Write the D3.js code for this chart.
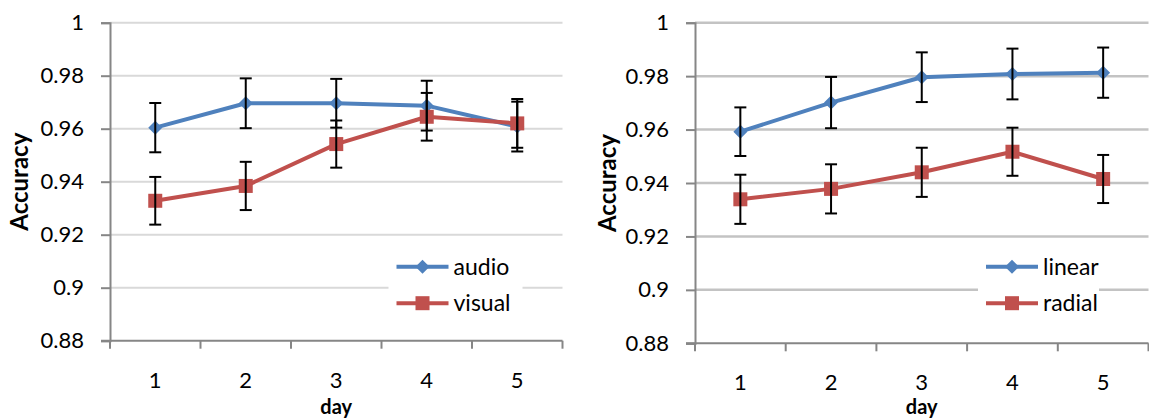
<!DOCTYPE html>
<html>
<head>
<meta charset="utf-8">
<script src="https://cdn.jsdelivr.net/npm/d3@7"></script>
<style>
  html, body { margin: 0; padding: 0; background: #fff; }
  svg { display: block; font-family: Lato, "Open Sans", sans-serif; }
</style>
</head>
<body>
<svg id="chart" width="1149" height="419"></svg>
<script>
// Days on the x axis
const days = [1, 2, 3, 4, 5];
const yTicks = [0.88, 0.9, 0.92, 0.94, 0.96, 0.98, 1];

// Left panel: modality
const audioMean  = [0.9604, 0.9696, 0.9696, 0.9687, 0.9608];
const audioErr   = [0.0093, 0.0094, 0.0092, 0.0094, 0.0094];
const visualMean = [0.9328, 0.9384, 0.9542, 0.9645, 0.9620];
const visualErr  = [0.0090, 0.0091, 0.0089, 0.0090, 0.0092];

// Right panel: layout
const linearMean = [0.9592, 0.9701, 0.9796, 0.9808, 0.9813];
const linearErr  = [0.0091, 0.0096, 0.0093, 0.0095, 0.0094];
const radialMean = [0.9339, 0.9378, 0.9440, 0.9517, 0.9415];
const radialErr  = [0.0092, 0.0092, 0.0092, 0.0090, 0.0090];

const BLUE = "#4f81bd", RED = "#c0504d";
const svg = d3.select("#chart");

function panel(opts) {
  const g = svg.append("g");
  const x = d3.scaleBand().domain(days).range([opts.left, opts.right]).padding(0);
  const y = d3.scaleLinear().domain([0.88, 1]).range([opts.bottom, opts.top]);

  // horizontal gridlines
  g.append("g").selectAll("line").data(yTicks.filter(t => t > 0.88)).join("line")
    .attr("x1", opts.left).attr("x2", opts.right)
    .attr("y1", d => y(d)).attr("y2", d => y(d))
    .attr("stroke", opts.grid).attr("stroke-width", opts.gridW);

  // y axis
  const yAxis = g.append("g").attr("transform", `translate(${opts.left},0)`)
    .call(d3.axisLeft(y).tickValues(yTicks).tickSize(9).tickPadding(17)
      .tickFormat(d => d3.format(".2~f")(d)));
  yAxis.select(".domain").attr("stroke", "#868686").attr("stroke-width", 2);
  yAxis.selectAll(".tick line").attr("stroke", "#868686").attr("stroke-width", 2);
  yAxis.selectAll("text").attr("font-size", 22).attr("fill", "#000")
    .attr("font-family", "Lato, 'Open Sans', sans-serif");

  // x axis: labels centred in bands, ticks on band boundaries
  const xAxis = g.append("g").attr("transform", `translate(0,${opts.bottom})`);
  xAxis.append("line").attr("x1", opts.left - 9).attr("x2", opts.right)
    .attr("stroke", "#868686").attr("stroke-width", 2);
  const bounds = days.map(d => x(d)).concat([x(days[days.length - 1]) + x.bandwidth()]);
  xAxis.selectAll("line.tk").data(bounds).join("line").attr("class", "tk")
    .attr("x1", d => d).attr("x2", d => d).attr("y1", 0).attr("y2", 8)
    .attr("stroke", "#868686").attr("stroke-width", 2);
  xAxis.selectAll("text.lbl").data(days).join("text").attr("class", "lbl")
    .attr("x", d => x(d) + x.bandwidth() / 2).attr("y", 47)
    .attr("text-anchor", "middle").attr("font-size", 22).text(d => d);

  // axis titles
  g.append("text").attr("x", (opts.left + opts.right) / 2).attr("y", 414)
    .attr("text-anchor", "middle").attr("font-size", 20).attr("font-weight", "bold")
    .text("day");
  g.append("text")
    .attr("transform", `translate(${opts.titleX},${(opts.top + opts.bottom) / 2}) rotate(-90)`)
    .attr("text-anchor", "middle").attr("font-size", 24).attr("font-weight", "bold")
    .text("Accuracy");

  // legend box breaks the gridline behind it
  const lg = g.append("g");
  lg.append("rect").attr("x", opts.legX - 8).attr("y", 250).attr("width", opts.legW).attr("height", 66)
    .attr("fill", "#fff");

  const cx = d => x(d) + x.bandwidth() / 2;
  const line = d3.line().x((v, i) => cx(days[i])).y(v => y(v));

  opts.series.forEach(s => {
    const sg = g.append("g");
    sg.append("path").datum(s.mean).attr("d", line).attr("fill", "none")
      .attr("stroke", s.color).attr("stroke-width", 4).attr("stroke-linejoin", "round");
    s.mean.forEach((m, i) => drawShape(sg, s.shape, cx(days[i]), y(m), s.color));
  });
  // error bars on top
  opts.series.forEach(s => {
    const eg = g.append("g");
    s.mean.forEach((m, i) => {
      const xc = cx(days[i]), lo = y(m - s.err[i]), hi = y(m + s.err[i]);
      eg.append("line").attr("x1", xc).attr("x2", xc).attr("y1", hi).attr("y2", lo)
        .attr("stroke", "#000").attr("stroke-width", 2);
      [hi, lo].forEach(yy => eg.append("line").attr("x1", xc - 6).attr("x2", xc + 6)
        .attr("y1", yy).attr("y2", yy).attr("stroke", "#000").attr("stroke-width", 2));
    });
  });

  // legend entries
  opts.series.forEach((s, si) => {
    const ly = 266.7 + si * 36.5;
    lg.append("line").attr("x1", opts.legX).attr("x2", opts.legX + 52).attr("y1", ly).attr("y2", ly)
      .attr("stroke", s.color).attr("stroke-width", 4);
    drawShape(lg, s.shape, opts.legX + 26, ly, s.color);
    lg.append("text").attr("x", opts.legX + 57).attr("y", ly + 8).attr("font-size", 23).text(s.name);
  });
}

function drawShape(sel, shape, cx, cy, color) {
  if (shape === "diamond") {
    sel.append("path").attr("d", `M${cx},${cy - 7}L${cx + 7},${cy}L${cx},${cy + 7}L${cx - 7},${cy}Z`)
      .attr("fill", color);
  } else {
    sel.append("rect").attr("x", cx - 7).attr("y", cy - 7).attr("width", 14).attr("height", 14)
      .attr("fill", color);
  }
}

panel({
  left: 110, right: 562.5, top: 22.7, bottom: 340.7, titleX: 28,
  grid: "#d9d9d9", gridW: 2, legX: 396.5, legW: 134,
  series: [
    { name: "audio", mean: audioMean, err: audioErr, color: BLUE, shape: "diamond" },
    { name: "visual", mean: visualMean, err: visualErr, color: RED, shape: "square" }
  ]
});
panel({
  left: 695, right: 1148.5, top: 22.7, bottom: 343.3, titleX: 616,
  grid: "#c3c3c3", gridW: 2.5, legX: 986, legW: 121,
  series: [
    { name: "linear", mean: linearMean, err: linearErr, color: BLUE, shape: "diamond" },
    { name: "radial", mean: radialMean, err: radialErr, color: RED, shape: "square" }
  ]
});
</script>
</body>
</html>
